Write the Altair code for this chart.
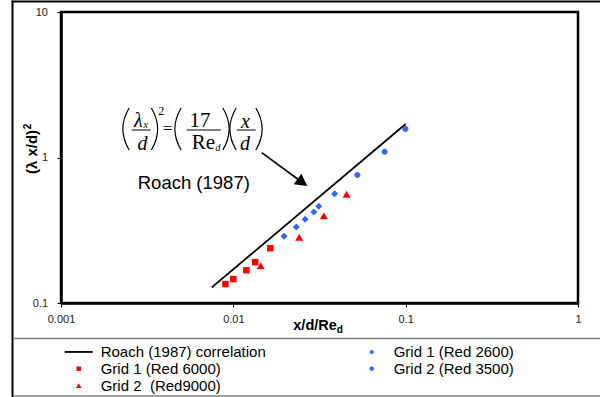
import altair as alt
import pandas as pd

# ---------------- data ----------------
S_ROACH = "Roach (1987) correlation"
S_G1A = "Grid 1 (Red 2600)"
S_G1B = "Grid 1 (Red 6000)"
S_G2A = "Grid 2 (Red 3500)"
S_G2B = "Grid 2\u00a0 (Red9000)"
# legend is filled column by column: first column = first three entries
series_order = [S_ROACH, S_G1B, S_G2B, S_G1A, S_G2A]
series_colors = ["#000000", "#FF0000", "#FF0000", "#3366FF", "#3366FF"]

roach_x = [0.0075, 0.1]
roach_y = [0.128, 1.70]

g1_6000_x = [0.0090, 0.0100, 0.0119, 0.0134, 0.0164]
g1_6000_y = [0.135, 0.146, 0.168, 0.191, 0.238]

g2_9000_x = [0.0144, 0.0241, 0.0335, 0.0454]
g2_9000_y = [0.180, 0.282, 0.396, 0.558]

g1_2600_x = [0.0197, 0.0232, 0.0261, 0.0293, 0.0313, 0.0387]
g1_2600_y = [0.288, 0.333, 0.376, 0.422, 0.462, 0.564]

g2_3500_x = [0.0524, 0.0755, 0.0996]
g2_3500_y = [0.757, 1.094, 1.573]

x_ticks = [0.001, 0.01, 0.1, 1]
y_ticks = [0.1, 1, 10]

# ---------------- layout ----------------
W, H = 517, 291
SANS = "Liberation Sans"
SERIF = "Liberation Serif"

# marker outlines (unit box [-1, 1]); the legend line is a thin filled bar
SHAPE_LINE = "M-2.8,-0.18H2.8V0.18H-2.8Z"
SHAPE_DIAMOND = "M0,-0.5L0.5,0L0,0.5L-0.5,0Z"
SHAPE_SQUARE = "M-0.45,-0.45H0.45V0.45H-0.45Z"
SHAPE_CIRCLE = "M0.45,0A0.45,0.45 0 1,1 -0.45,0A0.45,0.45 0 1,1 0.45,0Z"
SHAPE_TRIANGLE = "M0,-0.5L0.55,0.45L-0.55,0.45Z"
series_shapes = [SHAPE_LINE, SHAPE_SQUARE, SHAPE_TRIANGLE, SHAPE_DIAMOND, SHAPE_CIRCLE]

xs = alt.Scale(type="log", domain=[0.001, 1], nice=False)
ys = alt.Scale(type="log", domain=[0.1, 10], nice=False)

x_axis = alt.Axis(values=x_ticks, format="~g", title=None, grid=False, tickSize=4,
                  tickColor="black", tickWidth=1, domainColor="black", domainWidth=2.5,
                  labelFont=SANS, labelFontSize=11, labelColor="#222222", labelPadding=6,
                  labelFlush=False, labelOverlap=False)
y_axis = alt.Axis(values=y_ticks, format="~g", title=None, grid=False, tickSize=4,
                  tickColor="black", tickWidth=1, domainColor="black", domainWidth=2.5,
                  labelFont=SANS, labelFontSize=11, labelColor="#222222", labelPadding=9.5,
                  labelOverlap=False)

legend = alt.Legend(
    orient="none", legendX=10.2, legendY=332.2, columns=2, columnPadding=98,
    rowPadding=1, symbolSize=100, labelOffset=14.5, labelFont=SANS,
    labelFontSize=15, labelColor="black", title=None, padding=0,
    symbolStrokeWidth=0, labelLimit=400,
)

color_enc = alt.Color("series:N", scale=alt.Scale(domain=series_order, range=series_colors), legend=legend)
shape_enc = alt.Shape("series:N", scale=alt.Scale(domain=series_order, range=series_shapes), legend=legend)


def frame(xv, yv, name):
    return pd.DataFrame({"x": xv, "y": yv, "series": name})


roach_df = frame(roach_x, roach_y, S_ROACH)

line = alt.Chart(roach_df).mark_line(color="black", strokeWidth=1.8).encode(
    x=alt.X("x:Q", scale=xs, axis=x_axis),
    y=alt.Y("y:Q", scale=ys, axis=y_axis),
)


def pts(df, size):
    return alt.Chart(df).mark_point(filled=True, opacity=1, size=size, strokeWidth=0).encode(
        x=alt.X("x:Q", scale=xs, axis=x_axis),
        y=alt.Y("y:Q", scale=ys, axis=y_axis),
        color=color_enc,
        shape=shape_enc,
    )


p_g1b = pts(frame(g1_6000_x, g1_6000_y, S_G1B), 208)
p_g2b = pts(frame(g2_9000_x, g2_9000_y, S_G2B), 213)
p_g1a = pts(frame(g1_2600_x, g1_2600_y, S_G1A), 196)
p_g2a = pts(frame(g2_3500_x, g2_3500_y, S_G2A), 178)

# ---------------- decorations / annotations ----------------
one = pd.DataFrame({"k": [0]})


def seg(x1, y1, x2, y2, color="black", w=1.0):
    return alt.Chart(one).mark_rule(color=color, strokeWidth=w).encode(
        x=alt.value(x1), y=alt.value(y1), x2=alt.value(x2), y2=alt.value(y2))


def txt(s, x, y, size, font=SANS, style="normal", weight="normal", align="center",
        baseline="alphabetic", angle=0):
    return alt.Chart(one).mark_text(text=s, font=font, fontSize=size, fontStyle=style,
                                    fontWeight=weight, align=align, baseline=baseline,
                                    angle=angle, color="black").encode(
        x=alt.value(x), y=alt.value(y))


def glyph(path, x, y, size, filled, angle=0, w=1.2):
    return alt.Chart(one).mark_point(shape=path, size=size, filled=filled, opacity=1,
                                     color="black", strokeWidth=w, angle=angle).encode(
        x=alt.value(x), y=alt.value(y))


LP = "M0.15,-1Q-0.45,0 0.15,1"
RP = "M-0.15,-1Q0.45,0 -0.15,1"

deco = [
    # outer chart frame & legend box
    seg(-48.5, -11.5, -48.5, 386, "black", 2),
    seg(-49.5, -10.5, 540, -10.5, "black", 2),
    seg(-48, 326.5, 540, 326.5, "#808080", 1.5),
    seg(-48, 384, 540, 384, "#808080", 1.5),
    # axis titles
    txt("x/d/Re", 232.3, 318, 14.5, weight="bold", align="left"),
    txt("d", 275.8, 320.5, 10, weight="bold", align="left"),
    txt("(λ x/d)", -29, 140, 15, weight="bold", baseline="middle", angle=270),
    txt("2", -33, 114.5, 10, weight="bold", baseline="middle", angle=270),
    # Roach label and arrow
    txt("Roach (1987)", 132.8, 177.3, 18.5),
    seg(200.7, 140.7, 241.4, 170.5, "black", 1.6),
    glyph("M1,0L-1,-1.1L-1,1.1Z", 241.4, 170.5, 144, True, angle=36, w=0),
    # equation
    txt("λ", 77.3, 114.5, 20, font=SERIF, style="italic"),
    txt("x", 82.5, 116, 10, font=SERIF, style="italic", align="left"),
    txt("d", 81.5, 138, 20, font=SERIF, style="italic"),
    txt("2", 100.3, 103, 12, font=SERIF),
    txt("=", 106.5, 117, 17, font=SERIF, baseline="middle"),
    txt("17", 139, 114.5, 21, font=SERIF),
    txt("Re", 154, 136.5, 21, font=SERIF, align="right"),
    txt("d", 154.5, 138.5, 10, font=SERIF, style="italic", align="left"),
    txt("x", 184.5, 115.5, 20, font=SERIF, style="italic"),
    txt("d", 184, 138, 20, font=SERIF, style="italic"),
    seg(70.7, 118, 89.7, 118, "black", 1),
    seg(125.7, 118, 159.7, 118, "black", 1),
    seg(175.7, 118, 194.7, 118, "black", 1),
    glyph(LP, 65, 117, 1764, False),
    glyph(RP, 93.5, 117, 1764, False),
    glyph(LP, 117, 117, 1764, False),
    glyph(RP, 165, 117, 1764, False),
    glyph(LP, 172, 117, 1764, False),
    glyph(RP, 198, 117, 1764, False),
]

chart = alt.layer(line, p_g1b, p_g2b, p_g1a, p_g2a, *deco).properties(
    width=W, height=H,
    autosize=alt.AutoSizeParams(type="none"),
    padding={"left": 61, "top": 12, "right": 22, "bottom": 94},
    background="white",
).configure_view(stroke="black", strokeWidth=2.5)

chart.save("out.html", embed_options={"renderer": "svg", "actions": False})
